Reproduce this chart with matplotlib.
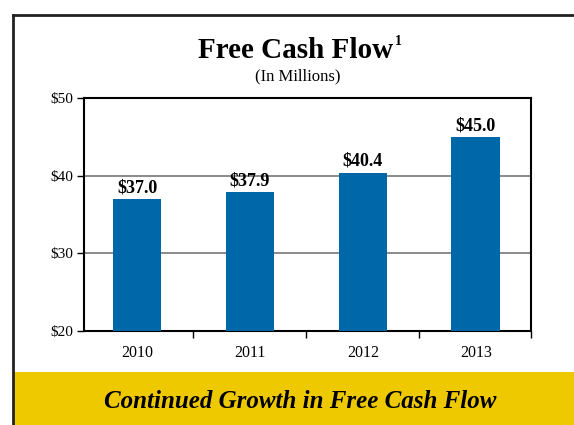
import matplotlib.pyplot as plt
from matplotlib.patches import Rectangle
from matplotlib.lines import Line2D

years = ['2010', '2011', '2012', '2013']
values = [37.0, 37.9, 40.4, 45.0]
labels = ['$37.0', '$37.9', '$40.4', '$45.0']
yticks = [20, 30, 40, 50]
ytick_labels = ['$20', '$30', '$40', '$50']

W, H = 574, 425
plt.rcParams['font.family'] = ['Liberation Serif', 'DejaVu Serif']

fig = plt.figure(figsize=(W / 100, H / 100), dpi=100)

# outer frame lines (top and left)
fig.add_artist(Line2D([12.5 / W, 1], [1 - 14.5 / H, 1 - 14.5 / H], color='#222222', lw=2))
fig.add_artist(Line2D([12.5 / W, 12.5 / W], [0, 1 - 14.5 / H], color='#222222', lw=2))

# yellow banner
fig.add_artist(Rectangle((14 / W, 0), 1, 53 / H, facecolor='#EFC900', edgecolor='none'))
fig.text(300 / W, 1 - 401 / H, 'Continued Growth in Free Cash Flow', ha='center', va='center',
         fontsize=18, fontweight='bold', style='italic')

# titles
title = fig.text(296 / W, 1 - 58 / H, 'Free Cash Flow', ha='center', va='baseline',
                 fontsize=21, fontweight='bold')
fig.canvas.draw()
bb = title.get_window_extent()
fig.text(bb.x1 / W + 1 / W, 1 - 45 / H, '1', ha='left', va='baseline',
         fontsize=10, fontweight='bold')
fig.text(298 / W, 1 - 76 / H, '(In Millions)', ha='center', va='center', fontsize=12)

ax = fig.add_axes([84 / W, 1 - 331 / H, (531 - 84) / W, (331 - 98) / H])
x = range(len(years))
ax.bar(x, [v - 20 for v in values], bottom=20, width=0.43, color='#0068A8', zorder=3)
for xi, v, lab in zip(x, values, labels):
    ax.text(xi, v + 0.35, lab, ha='center', va='bottom', fontsize=13, fontweight='bold')

ax.set_ylim(20, 50)
ax.set_xlim(-0.47, 3.49)
ax.set_yticks(yticks)
ax.set_yticklabels(ytick_labels, fontsize=11)
ax.set_xticks(x)
ax.set_xticklabels(years, fontsize=11.5)
ax.tick_params(axis='x', length=0, pad=10)
ax.set_xticks([0.5, 1.5, 2.5, 3.49], minor=True)
ax.tick_params(axis='x', which='minor', length=5, direction='out', width=1)
ax.tick_params(axis='y', length=5, direction='out', width=1, pad=3)
ax.yaxis.grid(True, color='#777777', lw=1.2, zorder=0)
for s in ax.spines.values():
    s.set_linewidth(1.5)
    s.set_color('black')

fig.savefig('out.png', dpi=100)
